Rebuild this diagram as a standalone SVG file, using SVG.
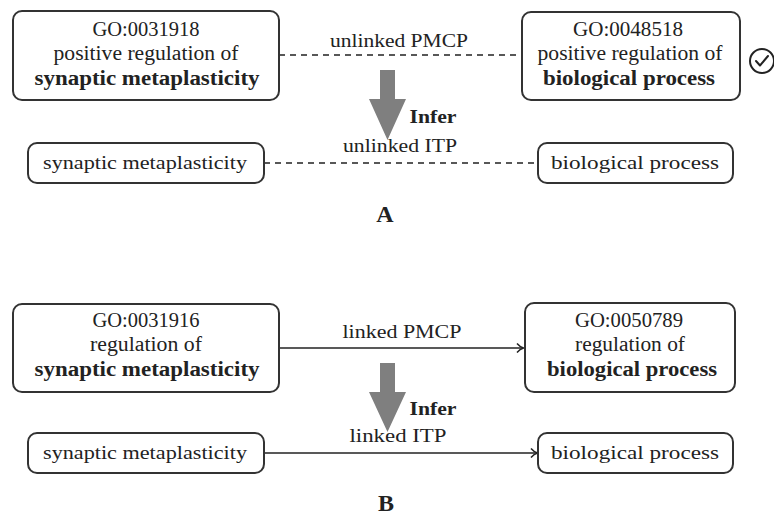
<svg xmlns="http://www.w3.org/2000/svg" width="774" height="515" viewBox="0 0 774 515">
<style>
text{font-family:"Liberation Serif","DejaVu Serif","Times New Roman",serif;fill:#222;text-anchor:middle}
.b{font-weight:bold}
.box{fill:#fff;stroke:#333;stroke-width:2}
.dash{stroke:#222;stroke-width:1.5;stroke-dasharray:6,5;fill:none}
.solid{stroke:#222;stroke-width:1.5;fill:none}
.big{font-size:20px}
.sm{font-size:19px}
.lbl{font-size:19px}
.infer{fill:#7f7f7f}
</style>
<defs>
<marker id="arr" markerWidth="12" markerHeight="12" refX="9" refY="6" orient="auto" markerUnits="userSpaceOnUse">
<path d="M3,1.5 Q6,5 9.5,6 Q6,7 3,10.5" fill="none" stroke="#222" stroke-width="1.5"/>
</marker>
</defs>
<g id="connectors">
<line class="dash" x1="279" y1="55" x2="522" y2="55"/>
<line class="dash" x1="264" y1="163" x2="538" y2="163"/>
<line class="solid" x1="279" y1="348" x2="523" y2="348" marker-end="url(#arr)"/>
<line class="solid" x1="264" y1="453" x2="537" y2="453" marker-end="url(#arr)"/>
<text class="lbl" x="399" y="47" textLength="138" lengthAdjust="spacingAndGlyphs">unlinked PMCP</text>
<text class="lbl" x="400" y="152" textLength="114" lengthAdjust="spacingAndGlyphs">unlinked ITP</text>
<text class="lbl" x="402" y="338" textLength="119" lengthAdjust="spacingAndGlyphs">linked PMCP</text>
<text class="lbl" x="398" y="442" textLength="97" lengthAdjust="spacingAndGlyphs">linked ITP</text>
</g>
<g id="infer-a">
<polygon class="infer" points="380,70 395,70 395,99 406,99 387.5,140 369,99 380,99"/>
<text class="b lbl" x="433" y="123" textLength="47" lengthAdjust="spacingAndGlyphs">Infer</text>
</g>
<g id="infer-b">
<polygon class="infer" points="380,363 395,363 395,392 406,392 387.5,432 369,392 380,392"/>
<text class="b lbl" x="433" y="415" textLength="47" lengthAdjust="spacingAndGlyphs">Infer</text>
</g>
<g id="node-a1">
<rect class="box" x="13" y="11" width="266" height="89" rx="9"/>
<text class="big" x="146" y="36" textLength="107" lengthAdjust="spacingAndGlyphs">GO:0031918</text>
<text class="big" x="146" y="60" textLength="185" lengthAdjust="spacingAndGlyphs">positive regulation of</text>
<text class="big b" x="147" y="85" textLength="225" lengthAdjust="spacingAndGlyphs">synaptic metaplasticity</text>
</g>
<g id="node-a2">
<rect class="box" x="522" y="12" width="218" height="88" rx="9"/>
<text class="big" x="628" y="36" textLength="110" lengthAdjust="spacingAndGlyphs">GO:0048518</text>
<text class="big" x="630" y="60" textLength="185" lengthAdjust="spacingAndGlyphs">positive regulation of</text>
<text class="big b" x="629" y="85" textLength="172" lengthAdjust="spacingAndGlyphs">biological process</text>
</g>
<g id="check">
<circle cx="762" cy="61" r="12" fill="none" stroke="#222" stroke-width="2"/>
<path d="M756,61 L760,65.5 L768,56" fill="none" stroke="#222" stroke-width="2" stroke-linecap="round" stroke-linejoin="round"/>
</g>
<g id="node-a3">
<rect class="box" x="28" y="143" width="236" height="40" rx="9"/>
<text class="sm" x="145" y="169" textLength="204" lengthAdjust="spacingAndGlyphs">synaptic metaplasticity</text>
</g>
<g id="node-a4">
<rect class="box" x="538" y="143" width="195" height="40" rx="9"/>
<text class="sm" x="635" y="169" textLength="168" lengthAdjust="spacingAndGlyphs">biological process</text>
</g>
<text class="b" x="385" y="222" font-size="24">A</text>
<g id="node-b1">
<rect class="box" x="13" y="304" width="266" height="88" rx="9"/>
<text class="big" x="146" y="327" textLength="107" lengthAdjust="spacingAndGlyphs">GO:0031916</text>
<text class="big" x="146" y="351" textLength="112" lengthAdjust="spacingAndGlyphs">regulation of</text>
<text class="big b" x="147" y="376" textLength="225" lengthAdjust="spacingAndGlyphs">synaptic metaplasticity</text>
</g>
<g id="node-b2">
<rect class="box" x="525" y="303" width="210" height="89" rx="9"/>
<text class="big" x="629" y="327" textLength="108" lengthAdjust="spacingAndGlyphs">GO:0050789</text>
<text class="big" x="630" y="351" textLength="110" lengthAdjust="spacingAndGlyphs">regulation of</text>
<text class="big b" x="632" y="376" textLength="170" lengthAdjust="spacingAndGlyphs">biological process</text>
</g>
<g id="node-b3">
<rect class="box" x="28" y="433" width="236" height="40" rx="9"/>
<text class="sm" x="145" y="459" textLength="204" lengthAdjust="spacingAndGlyphs">synaptic metaplasticity</text>
</g>
<g id="node-b4">
<rect class="box" x="538" y="433" width="195" height="40" rx="9"/>
<text class="sm" x="635" y="459" textLength="168" lengthAdjust="spacingAndGlyphs">biological process</text>
</g>
<text class="b" x="386" y="511" font-size="24">B</text>
</svg>
